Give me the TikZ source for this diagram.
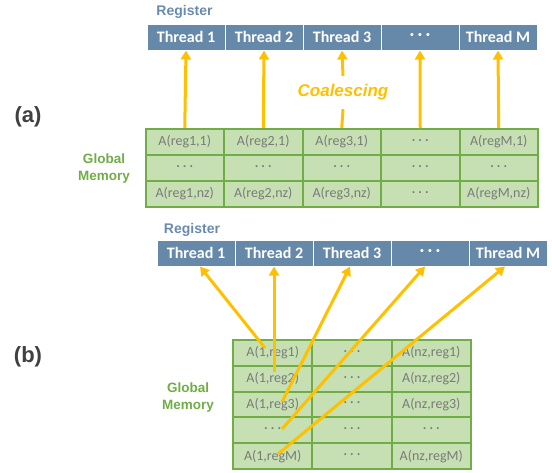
\documentclass[tikz,border=0pt]{standalone}
\usepackage{fontspec}
\setmainfont{Liberation Sans}
\newfontfamily\calib{Carlito}
\usetikzlibrary{arrows.meta}
\definecolor{thr}{HTML}{6789A9}
\definecolor{regc}{HTML}{6A8BAD}
\definecolor{cellfill}{HTML}{C6E0B4}
\definecolor{cellline}{HTML}{70AD47}
\definecolor{gmc}{HTML}{70AD47}
\definecolor{arr}{HTML}{FFC000}
\definecolor{celltext}{HTML}{7A7A7A}
\definecolor{lbl}{HTML}{404040}
\begin{document}
\begin{tikzpicture}[x=1pt,y=-1pt,
 thread/.style={draw=white, line width=1pt, fill=thr, minimum width=78pt, minimum height=26pt, inner sep=0pt, font=\calib\bfseries\fontsize{16}{18}\selectfont, text=white},
 cella/.style={draw=cellline, line width=2pt, fill=cellfill, minimum width=78.5pt, minimum height=26pt, inner sep=0pt, font=\calib\fontsize{14}{16}\selectfont, text=celltext},
 cellb/.style={cella, minimum width=79.3pt, minimum height=25.8pt},
 reglbl/.style={font=\bfseries\fontsize{14}{16}\selectfont, text=regc, inner sep=0pt},
 gmlbl/.style={font=\bfseries\fontsize{13.5}{16.5}\selectfont, text=gmc, align=center, inner sep=0pt},
 partlbl/.style={font=\bfseries\fontsize{22}{24}\selectfont, text=lbl, inner sep=0pt},
 conn/.style={draw=arr, line width=3pt},
 connarr/.style={conn, -{Triangle[length=9pt,width=10pt]}}
]
\useasboundingbox (0,0) rectangle (552,472);
% ---------- (a) ----------
\node[partlbl] (pa) at (28,117) {(a)};
\node[reglbl] (rega) at (184.5,12) {Register};
\foreach \t [count=\i] in {Thread 1,Thread 2,Thread 3,· · ·,Thread M}
  \node[thread] (a\i) at ({186+78*(\i-1)},37) {\t};
\foreach \t [count=\i] in {A(reg1{,}1),A(reg2{,}1),A(reg3{,}1),· · ·,A(regM{,}1)}
  \node[cella] (ga1\i) at ({184.75+78.5*(\i-1)},142) {\t};
\foreach \i in {1,...,5}
  \node[cella] (ga2\i) at ({184.75+78.5*(\i-1)},168) {· · ·};
\foreach \t [count=\i] in {A(reg1{,}nz),A(reg2{,}nz),A(reg3{,}nz),· · ·,A(regM{,}nz)}
  \node[cella] (ga3\i) at ({184.75+78.5*(\i-1)},194) {\t};
\node[gmlbl] (gma) at (104,168.5) {Global\\Memory};
\node[font=\bfseries\itshape\fontsize{17}{19}\selectfont, text=arr, minimum height=33pt, inner sep=0pt] (coal) at (343,92.5) {Coalescing};
\foreach \i in {1,2,4,5}
  \draw[connarr] (ga1\i.north) -- (a\i.south);
\draw[conn] (ga13.north) -- (coal.south);
\draw[connarr] (coal.north) -- (a3.south);
% ---------- (b) ----------
\node[partlbl] (pb) at (28,357) {(b)};
\node[reglbl] (regb) at (192,230) {Register};
\foreach \t [count=\i] in {Thread 1,Thread 2,Thread 3,· · ·,Thread M}
  \node[thread] (b\i) at ({196+78*(\i-1)},253) {\t};
\foreach \t [count=\j] in {A(1{,}reg1),A(1{,}reg2),A(1{,}reg3),· · ·,A(1{,}regM)}
  \node[cellb] (gb\j1) at (272.7,{352.9+25.8*(\j-1)}) {\t};
\foreach \j in {1,...,5}
  \node[cellb] (gb\j2) at (352,{352.9+25.8*(\j-1)}) {· · ·};
\foreach \t [count=\j] in {A(nz{,}reg1),A(nz{,}reg2),A(nz{,}reg3),· · ·,A(nz{,}regM)}
  \node[cellb] (gb\j3) at (431.3,{352.9+25.8*(\j-1)}) {\t};
\node[gmlbl] (gmb) at (188,397.5) {Global\\Memory};
\coordinate (s1) at (265,348);
\coordinate (s2) at (274,372);
\coordinate (s3) at (282,402);
\coordinate (s4) at (282,429);
\coordinate (s5) at (278,454);
\draw[connarr] (s1) -- ([xshift=4pt]b1.south);
\draw[connarr] (s2) -- (b2.south);
\draw[connarr] (s3) -- ([xshift=-2pt]b3.south);
\draw[connarr] (s4) -- ([xshift=-5pt]b4.south);
\draw[connarr] (s5) -- ([xshift=-3pt]b5.south);
\end{tikzpicture}
\end{document}
